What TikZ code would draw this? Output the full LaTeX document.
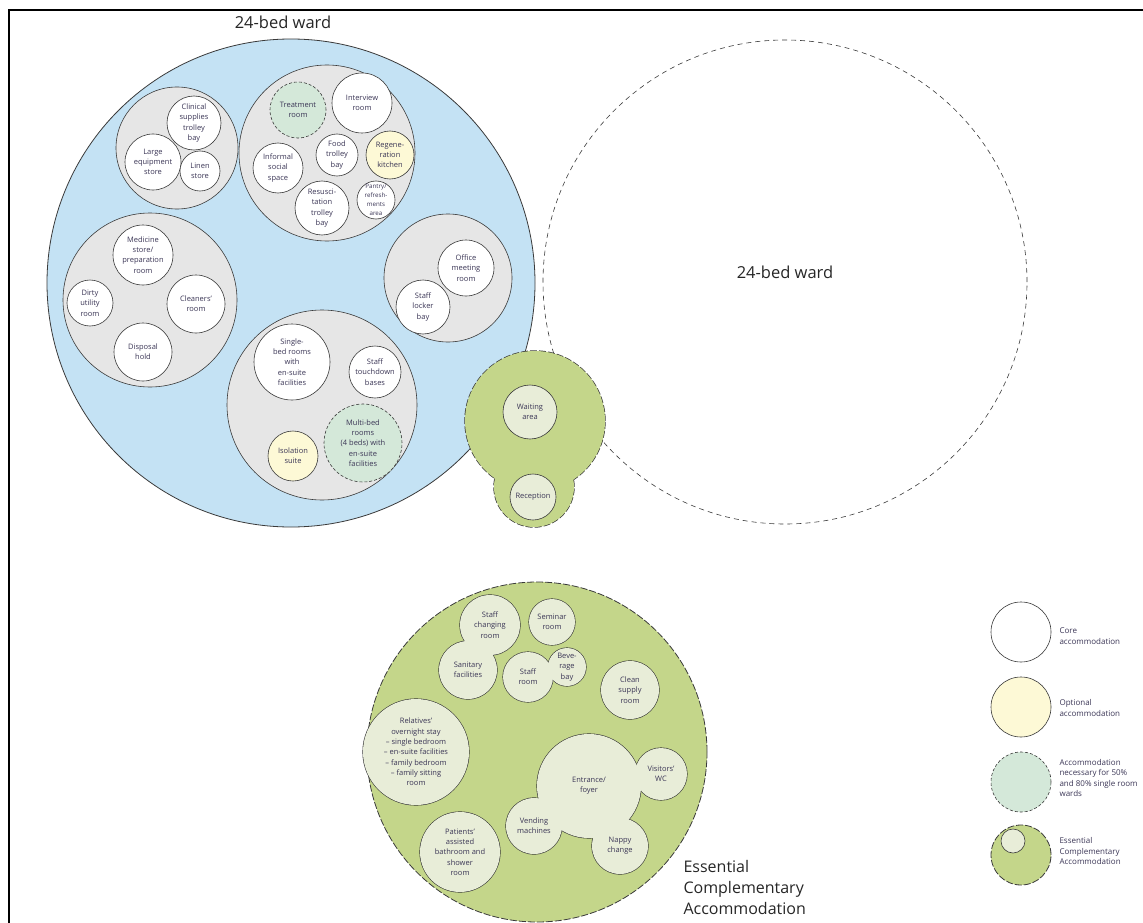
\documentclass[tikz,border=0pt]{standalone}
\usepackage{fontspec}
\setmainfont{Open Sans}
\usetikzlibrary{backgrounds}

\definecolor{wardblue}{HTML}{C4E2F4}
\definecolor{zonegray}{HTML}{E6E6E6}
\definecolor{ecagreen}{HTML}{C4D68A}
\definecolor{ecalight}{HTML}{E8EDD8}
\definecolor{needgreen}{HTML}{D4E8D9}
\definecolor{optyellow}{HTML}{FDF9D6}
\definecolor{edge}{HTML}{3A3A3A}
\definecolor{ink}{HTML}{3B3656}

\begin{document}
\begin{tikzpicture}[x=1pt, y=-1pt,
    bubble/.style={circle, minimum size=2*#1, inner sep=-20pt, align=center, text=ink, font=\fontsize{7.5}{10.3}\selectfont},
    room/.style={bubble=#1, draw=edge, line width=0.6pt, fill=white},
    optroom/.style={room=#1, fill=optyellow},
    needroom/.style={room=#1, fill=needgreen, dash pattern=on 3pt off 2pt},
    ecaroom/.style={bubble=#1},
    zone/.style={circle, minimum size=2*#1, inner sep=0pt, draw=edge, line width=0.6pt, fill=zonegray},
    ecaline/.style={draw=edge, dash pattern=on 7pt off 2pt},
    ecablob/.style={circle, minimum size=2*#1, inner sep=0pt, ecaline, line width=1.4pt, fill=ecagreen},
    heading/.style={font=\fontsize{16.5}{21}\selectfont, text=black!85, align=left},
    key/.style={anchor=west, align=left, text=ink, font=\fontsize{8}{10.4}\selectfont}
]
    \useasboundingbox (0,0) rectangle (1143,923);
    \draw[line width=1.5pt] (9,940) -- (9,10) -- (1160,10);

    % first ward
    \node[circle, minimum size=488, inner sep=0pt, draw=edge, line width=0.8pt, fill=wardblue] (wardA) at (291,283) {};
    \node[heading] (wardAname) at (283,22) {24-bed ward};

    % stores
    \node[zone=61] (stores) at (177,148) {};
    \node[room=27] (clinical) at (194,123) {Clinical\\supplies\\trolley\\bay};
    \node[room=28] (largeeq) at (153,162) {Large\\equipment\\store};
    \node[room=20] (linen) at (200,171) {Linen\\store};

    % social
    \node[zone=88] (social) at (327,153) {};
    \node[needroom=28] (treatment) at (298,110) {Treatment\\room};
    \node[room=30] (interview) at (362,103) {Interview\\room};
    \node[room=25] (informal) at (278,168) {Informal\\social\\space};
    \node[room=21] (foodbay) at (337,155) {Food\\trolley\\bay};
    \node[optroom=24] (regen) at (390,155) {Regene-\\ration\\kitchen};
    \node[room=27] (resus) at (322,208) {Resusci-\\tation\\trolley\\bay};
    \node[room=19, font=\fontsize{6.2}{8.8}\selectfont] (pantry) at (376,200) {Pantry/\\refresh-\\ments\\area};

    % utility
    \node[zone=87] (utility) at (150,300) {};
    \node[room=30] (medicine) at (143,255) {Medicine\\store/\\preparation\\room};
    \node[room=23] (dirty) at (90,303) {Dirty\\utility\\room};
    \node[room=29] (cleaners) at (196,304) {Cleaners'\\room};
    \node[room=29] (disposal) at (143,352) {Disposal\\hold};

    % office
    \node[zone=64] (office) at (448,278) {};
    \node[room=28] (meeting) at (466,268) {Office\\meeting\\room};
    \node[room=27] (locker) at (423,307) {Staff\\locker\\bay};

    % beds
    \node[zone=95] (beds) at (322,405) {};
    \node[room=38] (single) at (292,362) {Single-\\bed rooms\\with\\en-suite\\facilities};
    \node[room=26] (touchdown) at (375,372) {Staff\\touchdown\\bases};
    \node[needroom=39] (multibed) at (363,443) {Multi-bed\\rooms\\(4 beds) with\\en-suite\\facilities};
    \node[optroom=25] (isolation) at (293,456) {Isolation\\suite};

    % second ward
    \node[circle, minimum size=484, inner sep=0pt, draw=edge, line width=0.6pt, dash pattern=on 5pt off 4pt] (wardB) at (785,282) {};
    \node[heading] (wardBname) at (785,272) {24-bed ward};

    % waiting and reception
    \node[ecablob=70] (waitbig) at (535,421) {};
    \node[ecablob=40] (waitlobe) at (534,487) {};
    \fill[ecagreen] (waitbig.center) circle (70pt) (waitlobe.center) circle (40pt);
    \node[room=27, fill=ecalight] (waiting) at (530,412) {Waiting\\area};
    \node[room=23, fill=ecalight] (reception) at (533,497) {Reception};

    % essential complementary accommodation
    \node[ecaroom=30] (staffchg) at (490,625) {Staff\\changing\\room};
    \node[ecaroom=29] (sanitary) at (468,670) {Sanitary\\facilities};
    \node[ecaroom=23] (seminar) at (552,622) {Seminar\\room};
    \node[ecaroom=25] (staffroom) at (528,677) {Staff\\room};
    \node[ecaroom=19] (beverage) at (567,667) {Beve-\\rage\\bay};
    \node[ecaroom=29] (cleansup) at (630,690) {Clean\\supply\\room};
    \node[ecaroom=53] (relatives) at (416,752) {Relatives'\\overnight stay\\-- single bedroom\\-- en-suite facilities\\-- family bedroom\\-- family sitting\\room};
    \node[ecaroom=52] (entrance) at (589,786) {Entrance/\\foyer};
    \node[ecaroom=26] (visitors) at (661,774) {Visitors'\\WC};
    \node[ecaroom=28] (vending) at (534,826) {Vending\\machines};
    \node[ecaroom=28] (nappy) at (620,846) {Nappy\\change};
    \node[ecaroom=40] (patients) at (460,852) {Patients'\\assisted\\bathroom and\\shower\\room};
    \begin{scope}[on background layer]
        \node[ecablob=170, line width=0.8pt] (eca) at (537,752) {};
        \foreach \n/\r in {staffchg/30pt, sanitary/29pt, seminar/23pt, staffroom/25pt, beverage/19pt, cleansup/29pt, relatives/53pt, entrance/52pt, visitors/26pt, vending/28pt, nappy/28pt, patients/40pt}
            \draw[edge, line width=1.2pt] (\n.center) circle (\r);
        \foreach \n/\r in {staffchg/30pt, sanitary/29pt, seminar/23pt, staffroom/25pt, beverage/19pt, cleansup/29pt, relatives/53pt, entrance/52pt, visitors/26pt, vending/28pt, nappy/28pt, patients/40pt}
            \fill[ecalight] (\n.center) circle (\r);
    \end{scope}
    \node[heading, anchor=west, font=\fontsize{16}{21}\selectfont] (ecaname) at (680,887) {Essential\\Complementary\\Accommodation};

    % key
    \node[room=30] (keycore) at (1021,632) {};
    \node[key] (keycoretext) at (1056,636) {Core\\accommodation};
    \node[optroom=30] (keyopt) at (1021,707) {};
    \node[key] (keyopttext) at (1056,708) {Optional\\accommodation};
    \node[needroom=30] (keyneed) at (1021,782) {};
    \node[key] (keyneedtext) at (1056,778) {Accommodation\\necessary for 50\%\\and 80\% single room\\wards};
    \node[ecablob=30, line width=0.8pt] (keyeca) at (1021,855) {};
    \node[room=12, inner sep=0pt, fill=ecalight] (keyecain) at (1013,841) {};
    \node[key] (keyecatext) at (1056,851) {Essential\\Complementary\\Accommodation};
\end{tikzpicture}
\end{document}
